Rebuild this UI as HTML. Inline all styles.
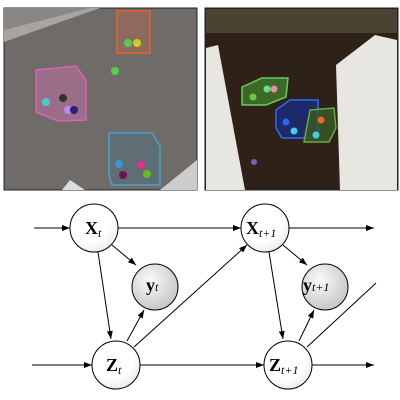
<!DOCTYPE html>
<html><head><style>body{margin:0;background:#fff}svg{display:block}</style></head><body>
<svg width="400" height="400" viewBox="0 0 400 400" xmlns="http://www.w3.org/2000/svg">
<defs>
<radialGradient id="g" cx="0.4" cy="0.35" r="0.7"><stop offset="0" stop-color="#fafafa"/><stop offset="1" stop-color="#c4c4c4"/></radialGradient>
<radialGradient id="w" cx="0.4" cy="0.35" r="0.75"><stop offset="0.6" stop-color="#fff"/><stop offset="1" stop-color="#e4e4e4"/></radialGradient>
<marker id="a" markerWidth="8" markerHeight="6" refX="8" refY="3" orient="auto" markerUnits="userSpaceOnUse"><path d="M0,0L8,3L0,6z" fill="#000"/></marker>
</defs>
<!-- left photo -->
<rect x="4" y="8" width="193" height="182" fill="#6f6b69" stroke="#222" stroke-width="1"/>
<polygon points="4,8 90,8 4,40" fill="#8a8684"/>
<polygon points="4,30 90,8 100,8 4,42" fill="#a8a4a2"/>
<polygon points="160,190 197,160 197,190" fill="#ccc"/>
<polygon points="62,190 70,180 85,190" fill="#ddd"/>
<polygon points="117,11 150,11 150,53 117,53" fill="#9a6a58" stroke="#e8602a" stroke-width="1.5" fill-opacity="0.7"/>
<polygon points="36,70 76,66 86,80 86,120 58,121 36,112" fill="#9a6d88" stroke="#e060b0" stroke-width="1.5"/>
<polygon points="109,133 152,133 160,146 160,185 112,185 109,175" fill="#5e6e74" stroke="#4aa0c8" stroke-width="1.5"/>
<circle cx="128" cy="43" r="4" fill="#5c5"/><circle cx="137" cy="43" r="4" fill="#cc2"/>
<circle cx="115" cy="71" r="4" fill="#5c5"/>
<circle cx="46" cy="102" r="4" fill="#4cc"/><circle cx="63" cy="98" r="4" fill="#333"/><circle cx="68" cy="110" r="4" fill="#b8e"/><circle cx="74" cy="110" r="4" fill="#227"/>
<circle cx="119" cy="164" r="4" fill="#39c"/><circle cx="141" cy="165" r="4" fill="#d38"/><circle cx="123" cy="175" r="4" fill="#715"/><circle cx="147" cy="174" r="4" fill="#6b2"/>
<!-- right photo -->
<rect x="205" y="8" width="193" height="182" fill="#2e2118" stroke="#222" stroke-width="1"/>
<rect x="206" y="9" width="191" height="24" fill="#4a4232"/>
<polygon points="206,48 218,45 245,190 206,190" fill="#e8e6e0"/>
<polygon points="336,65 375,35 397,40 397,190 340,190" fill="#e8e6e0"/>
<polygon points="242,87 262,78 288,78 286,97 266,105 242,105" fill="#3c6a24" stroke="#6c6" stroke-width="1.5"/>
<polygon points="276,110 290,100 318,100 318,138 282,138 276,128" fill="#1c2a66" stroke="#36f" stroke-width="1.5"/>
<polygon points="310,110 334,108 336,128 329,142 304,142" fill="#3c5a24" stroke="#6a4" stroke-width="1.5" fill-opacity="0.8"/>
<circle cx="253" cy="97" r="3.5" fill="#6c4"/><circle cx="267" cy="89" r="3.5" fill="#6d8"/><circle cx="274" cy="89" r="3.5" fill="#e8a"/>
<circle cx="286" cy="122" r="3.5" fill="#26f"/><circle cx="294" cy="131" r="3.5" fill="#4ce"/><circle cx="321" cy="120" r="3.5" fill="#e62"/><circle cx="316" cy="135" r="3.5" fill="#4cd"/><circle cx="304" cy="111" r="3" fill="#228"/>
<circle cx="254" cy="162" r="3" fill="#76a"/>
<!-- diagram -->
<g stroke="#000" stroke-width="1" fill="none">
<line x1="34" y1="228" x2="70" y2="228" marker-end="url(#a)"/>
<line x1="118" y1="228" x2="241" y2="228" marker-end="url(#a)"/>
<line x1="289" y1="228" x2="374" y2="228" marker-end="url(#a)"/>
<line x1="32" y1="365" x2="92" y2="365" marker-end="url(#a)"/>
<line x1="140" y1="365" x2="264" y2="365" marker-end="url(#a)"/>
<line x1="312" y1="365" x2="374" y2="365" marker-end="url(#a)"/>
<line x1="98" y1="252" x2="111" y2="339" marker-end="url(#a)"/>
<line x1="112" y1="245" x2="136" y2="265" marker-end="url(#a)"/>
<line x1="127" y1="341" x2="144" y2="310" marker-end="url(#a)"/>
<line x1="134" y1="347" x2="247" y2="245" marker-end="url(#a)"/>
<line x1="269" y1="252" x2="283" y2="339" marker-end="url(#a)"/>
<line x1="283" y1="245" x2="307" y2="265" marker-end="url(#a)"/>
<line x1="299" y1="341" x2="314" y2="310" marker-end="url(#a)"/>
<line x1="307" y1="347" x2="376" y2="283"/>
</g>
<g stroke="#000" stroke-width="1">
<circle cx="94" cy="228" r="24" fill="url(#w)"/>
<circle cx="265" cy="228" r="24" fill="url(#w)"/>
<circle cx="155" cy="287" r="23" fill="url(#g)"/>
<circle cx="325" cy="287" r="23" fill="url(#g)"/>
<circle cx="116" cy="365" r="24" fill="url(#w)"/>
<circle cx="288" cy="365" r="24" fill="url(#w)"/>
</g>
<g font-family="Liberation Serif, serif" fill="#000">
<text x="85" y="234" font-size="18" font-weight="bold">X<tspan font-size="12" font-style="italic" font-weight="normal" dy="3">t</tspan></text>
<text x="246" y="234" font-size="18" font-weight="bold">X<tspan font-size="12" font-style="italic" font-weight="normal" dy="3">t+1</tspan></text>
<text x="146" y="291" font-size="18" font-weight="bold">y<tspan font-size="12" font-style="italic" font-weight="normal" dy="0">t</tspan></text>
<text x="303" y="291" font-size="18" font-weight="bold">y<tspan font-size="12" font-style="italic" font-weight="normal" dy="0">t+1</tspan></text>
<text x="106" y="371" font-size="18" font-weight="bold">Z<tspan font-size="12" font-style="italic" font-weight="normal" dy="3">t</tspan></text>
<text x="269" y="371" font-size="18" font-weight="bold">Z<tspan font-size="12" font-style="italic" font-weight="normal" dy="3">t+1</tspan></text>
</g>
</svg>
</body></html>
